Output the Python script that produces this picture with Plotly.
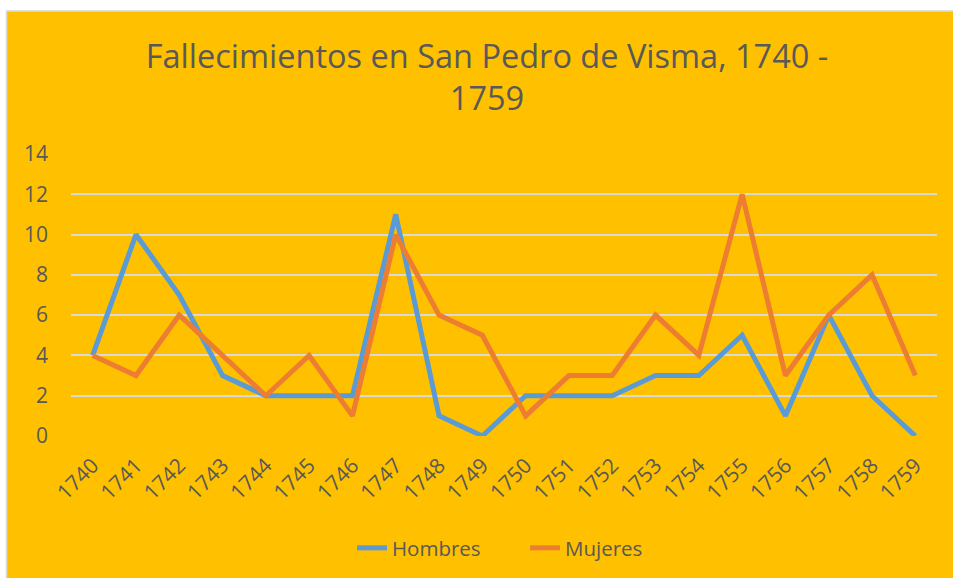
import plotly.graph_objects as go

years = [str(y) for y in range(1740, 1760)]
hombres = [4, 10, 7, 3, 2, 2, 2, 11, 1, 0, 2, 2, 2, 3, 3, 5, 1, 6, 2, 0]
mujeres = [4, 3, 6, 4, 2, 4, 1, 10, 6, 5, 1, 3, 3, 6, 4, 12, 3, 6, 8, 3]
y_ticks = [0, 2, 4, 6, 8, 10, 12, 14]

W, H = 953, 578
L, R, T, B = 71, 953 - 937, 154, 578 - 437
pw, ph = W - L - R, H - T - B

def px(x):  # page pixel -> paper
    return (x - L) / pw

def py(y):
    return (H - B - y) / ph

FONT = "Open Sans"
GREY = "#595959"
YELLOW = "#FFC000"

fig = go.Figure()
fig.add_trace(go.Scatter(x=years, y=hombres, mode="lines", name="Hombres",
                         line=dict(color="#5B9BD5", width=5), cliponaxis=False))
fig.add_trace(go.Scatter(x=years, y=mujeres, mode="lines", name="Mujeres",
                         line=dict(color="#ED7D31", width=5), cliponaxis=False))

fig.update_layout(
    width=W, height=H,
    margin=dict(l=L, r=R, t=T, b=B),
    paper_bgcolor="white",
    plot_bgcolor=YELLOW,
    font=dict(family=FONT, color=GREY, size=20),
    title=dict(text="Fallecimientos en San Pedro de Visma, 1740 -<br>1759",
               xref="container", x=487 / W, xanchor="center",
               yref="container", y=1 - 68 / H, yanchor="middle",
               font=dict(family=FONT, size=32.5, color=GREY)),
    showlegend=True,
    legend=dict(orientation="h", x=px(352), xanchor="left", y=py(548), yanchor="middle",
                entrywidth=128, entrywidthmode="pixels",
                font=dict(size=20.5, color=GREY), bgcolor="rgba(0,0,0,0)"),
    shapes=[dict(type="rect", xref="paper", yref="paper",
                 x0=px(6.5), x1=px(970), y0=py(10.5), y1=py(600),
                 fillcolor=YELLOW, line=dict(color="#d9d9d9", width=1.5), layer="below")],
)
fig.update_xaxes(type="category", range=[-0.5, 19.5], tickangle=-45, showgrid=False,
                 showline=False, zeroline=False, ticks="", ticklabelstandoff=12,
                 tickfont=dict(size=21, color=GREY))
fig.update_yaxes(range=[0, 14], tickvals=y_ticks, showgrid=True, gridcolor="#d9d9d9", gridwidth=1.5,
                 zeroline=False, showline=False, ticks="", ticklabelstandoff=22,
                 tickfont=dict(size=21, color=GREY))

fig.write_html("out.html", config={"displayModeBar": False},
               post_script="document.body.style.margin='0';document.body.style.overflow='hidden';")
